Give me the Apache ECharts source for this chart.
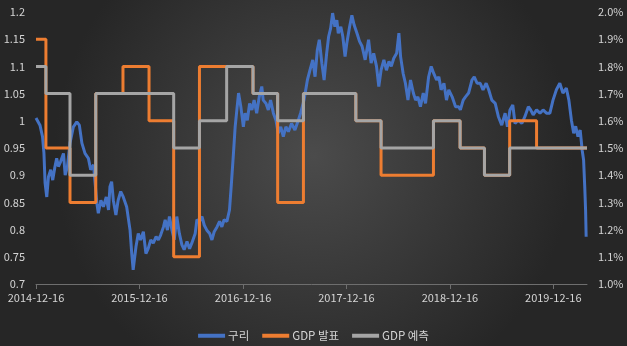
<!DOCTYPE html>
<html>
<head>
<meta charset="utf-8">
<script src="https://cdn.jsdelivr.net/npm/echarts@6/dist/echarts.min.js"></script>
<style>
  html, body { margin: 0; padding: 0; background: #262626; }
  #chart { width: 627px; height: 346px; }
</style>
</head>
<body>
<div id="chart"></div>
<script>
// Copper index (left axis)
const copperDates = [
  '2014-12-16','2014-12-30','2015-01-08','2015-01-13','2015-01-17','2015-01-23','2015-01-29','2015-02-06','2015-02-13','2015-02-21',
  '2015-02-27','2015-03-05','2015-03-13','2015-03-23','2015-03-29','2015-04-06','2015-04-15','2015-04-27','2015-05-09','2015-05-18',
  '2015-05-27','2015-06-07','2015-06-19','2015-06-27','2015-07-07','2015-07-19','2015-07-24','2015-08-02','2015-08-11','2015-08-21',
  '2015-08-29','2015-09-03','2015-09-09','2015-09-15','2015-09-24','2015-10-02','2015-10-11','2015-10-20','2015-11-01','2015-11-13',
  '2015-11-19','2015-11-24','2015-12-04','2015-12-12','2015-12-20','2015-12-30','2016-01-08','2016-01-16','2016-01-25','2016-02-03',
  '2016-02-13','2016-02-21','2016-02-29','2016-03-10','2016-03-16','2016-03-24','2016-03-31','2016-04-09','2016-04-17','2016-04-26',
  '2016-05-05','2016-05-14','2016-05-22','2016-06-01','2016-06-10','2016-06-18','2016-06-30','2016-07-06','2016-07-15','2016-07-24',
  '2016-08-01','2016-08-10','2016-08-20','2016-08-28','2016-09-05','2016-09-15','2016-09-24','2016-10-02','2016-10-10','2016-10-20',
  '2016-10-29','2016-11-04','2016-11-12','2016-11-18','2016-11-24','2016-11-30','2016-12-08','2016-12-17','2016-12-23','2016-12-31',
  '2017-01-08','2017-01-16','2017-01-24','2017-02-02','2017-02-11','2017-02-20','2017-02-25','2017-03-07','2017-03-15','2017-03-23',
  '2017-04-02','2017-04-11','2017-04-19','2017-04-28','2017-05-07','2017-05-16','2017-05-25','2017-06-05','2017-06-17','2017-06-29',
  '2017-07-07','2017-07-19','2017-07-31','2017-08-09','2017-08-19','2017-08-27','2017-09-04','2017-09-11','2017-09-20','2017-09-28',
  '2017-10-07','2017-10-14','2017-10-21','2017-10-28','2017-11-05','2017-11-12','2017-11-17','2017-11-26','2017-12-03','2017-12-11',
  '2017-12-17','2017-12-27','2018-01-04','2018-01-12','2018-01-22','2018-01-31','2018-02-09','2018-02-20','2018-03-04','2018-03-13',
  '2018-03-22','2018-04-01','2018-04-09','2018-04-17','2018-04-27','2018-05-06','2018-05-15','2018-05-23','2018-06-01','2018-06-11',
  '2018-06-19','2018-06-25','2018-07-04','2018-07-12','2018-07-21','2018-07-30','2018-08-09','2018-08-17','2018-08-25','2018-09-03',
  '2018-09-13','2018-09-21','2018-10-02','2018-10-11','2018-10-20','2018-10-30','2018-11-07','2018-11-15','2018-11-25','2018-12-04',
  '2018-12-12','2018-12-24','2019-01-05','2019-01-16','2019-01-22','2019-02-01','2019-02-09','2019-02-20','2019-03-04','2019-03-12',
  '2019-03-22','2019-04-02','2019-04-12','2019-04-23','2019-05-02','2019-05-13','2019-05-25','2019-06-05','2019-06-17','2019-06-29',
  '2019-07-07','2019-07-16','2019-07-26','2019-08-03','2019-08-15','2019-08-27','2019-09-07','2019-09-19','2019-09-27','2019-10-06',
  '2019-10-18','2019-10-30','2019-11-10','2019-11-22','2019-12-04','2019-12-15','2019-12-27','2020-01-08','2020-01-19','2020-01-31',
  '2020-02-09','2020-02-18','2020-02-26','2020-03-04','2020-03-12','2020-03-20','2020-03-27','2020-04-01','2020-04-05','2020-04-08',
  '2020-04-10'
];
const copperValues = [
  1.005,0.992,0.971,0.941,0.886,0.860,0.897,0.910,0.891,0.916,
  0.931,0.916,0.925,0.940,0.900,0.916,0.959,0.989,0.998,0.992,
  0.959,0.940,0.931,0.910,0.919,0.848,0.830,0.854,0.842,0.860,
  0.836,0.879,0.888,0.854,0.827,0.854,0.870,0.860,0.842,0.799,
  0.756,0.726,0.769,0.793,0.781,0.796,0.756,0.765,0.781,0.775,
  0.787,0.781,0.790,0.805,0.818,0.799,0.824,0.799,0.781,0.824,
  0.793,0.772,0.763,0.778,0.765,0.775,0.793,0.818,0.815,0.824,
  0.808,0.799,0.793,0.781,0.796,0.805,0.815,0.805,0.818,0.815,
  0.836,0.879,0.940,0.989,1.020,1.051,1.026,0.989,1.014,1.001,
  1.032,1.020,1.038,1.014,1.044,1.063,1.038,1.032,1.020,1.038,
  1.014,1.001,0.977,0.989,0.971,0.989,0.980,0.995,0.983,1.001,
  1.014,1.038,1.075,1.093,1.112,1.081,1.130,1.149,1.106,1.075,
  1.124,1.155,1.170,1.198,1.173,1.185,1.161,1.173,1.155,1.118,
  1.142,1.173,1.194,1.176,1.161,1.146,1.137,1.112,1.149,1.106,
  1.124,1.100,1.063,1.093,1.112,1.093,1.109,1.100,1.115,1.124,
  1.161,1.118,1.087,1.069,1.038,1.075,1.051,1.038,1.044,1.026,
  1.051,1.032,1.081,1.100,1.087,1.075,1.081,1.057,1.069,1.038,
  1.057,1.044,1.026,1.026,1.020,1.038,1.044,1.051,1.075,1.081,
  1.069,1.069,1.057,1.069,1.057,1.038,1.032,1.008,0.992,1.014,
  0.989,1.020,1.029,0.995,1.001,0.995,1.008,1.026,1.020,1.011,
  1.020,1.014,1.020,1.014,1.014,1.038,1.057,1.069,1.051,1.060,
  1.038,1.001,0.977,0.990,0.971,0.983,0.946,0.928,0.879,0.836,
  0.787
];

// GDP growth (%, right axis) as step series; each value holds until the next date
const gdpDates = [
  '2014-12-16','2015-01-20','2015-04-15','2015-07-15','2015-10-19','2016-01-19','2016-04-15','2016-07-15',
  '2016-10-19','2017-01-20','2017-04-17','2017-07-17','2017-10-19','2018-01-18','2018-04-17','2018-07-16',
  '2018-10-19','2019-01-21','2019-04-17','2019-07-15','2019-10-18','2020-01-17','2020-04-13'
];
const gdpActual   = [1.9,1.5,1.3,1.7,1.8,1.6,1.1,1.8,1.8,1.7,1.3,1.7,1.7,1.6,1.4,1.4,1.6,1.5,1.4,1.6,1.5,1.5,1.5];
const gdpForecast = [1.8,1.7,1.4,1.7,1.7,1.7,1.5,1.6,1.8,1.7,1.6,1.7,1.7,1.6,1.5,1.5,1.6,1.5,1.4,1.5,1.5,1.5,1.5];

// x-axis tick dates
const tickDates = ['2014-12-16','2015-12-16','2016-12-16','2017-12-16','2018-12-16','2019-12-16'];
const axisStart = '2014-12-16';
const axisEnd = '2020-04-13';

const seriesNames = ['구리', 'GDP 발표', 'GDP 예측'];

function toTime(s) {
  const p = s.split('-').map(Number);
  return new Date(p[0], p[1] - 1, p[2]).getTime();
}
function pad(n) { return (n < 10 ? '0' : '') + n; }
function fmtDate(t) {
  const d = new Date(t);
  return d.getFullYear() + '-' + pad(d.getMonth() + 1) + '-' + pad(d.getDate());
}
function zip(dates, values) {
  return dates.map((d, i) => [toTime(d), values[i]]);
}

const FONT = '"Noto Sans CJK KR", "Noto Sans", sans-serif';
const TEXT = '#d4d4d4';

const chart = echarts.init(document.getElementById('chart'), null, { renderer: 'canvas' });
chart.setOption({
  animation: false,
  backgroundColor: {
    type: 'radial', x: 0.5, y: 0.45, r: 0.75,
    colorStops: [
      { offset: 0, color: '#4b4b4b' },
      { offset: 1, color: '#262626' }
    ]
  },
  textStyle: { fontFamily: FONT },
  grid: { left: 36, right: 40, top: 12, bottom: 62, containLabel: false },
  legend: {
    data: seriesNames,
    left: 'center',
    top: 325,
    icon: 'rect',
    itemWidth: 27,
    itemHeight: 4,
    itemGap: 13,
    textStyle: { color: TEXT, fontSize: 11.5, fontFamily: FONT, padding: [0, 0, 0, -2] }
  },
  xAxis: {
    type: 'value',
    min: toTime(axisStart),
    max: toTime(axisEnd),
    axisLine: { show: true, lineStyle: { color: '#6e6e6e', width: 1 } },
    axisTick: {
      show: true, length: 5, inside: false,
      lineStyle: { color: '#6e6e6e' },
      customValues: tickDates.map(toTime)
    },
    axisLabel: {
      color: TEXT, fontSize: 11, fontFamily: FONT, margin: 8,
      customValues: tickDates.map(toTime),
      formatter: (v) => fmtDate(v)
    },
    splitLine: { show: false }
  },
  yAxis: [
    {
      type: 'value',
      min: 0.7, max: 1.2, interval: 0.05,
      axisLine: { show: false },
      axisTick: { show: false },
      splitLine: { show: false },
      axisLabel: { color: TEXT, fontSize: 11, fontFamily: FONT, margin: 11 }
    },
    {
      type: 'value',
      min: 1.0, max: 2.0, interval: 0.1,
      axisLine: { show: false },
      axisTick: { show: false },
      splitLine: { show: false },
      axisLabel: {
        color: TEXT, fontSize: 11, fontFamily: FONT, margin: 11,
        formatter: (v) => v.toFixed(1) + '%'
      }
    }
  ],
  series: [
    {
      name: seriesNames[0],
      type: 'line',
      yAxisIndex: 0,
      data: zip(copperDates, copperValues),
      showSymbol: false,
      symbol: 'none',
      lineStyle: { color: '#4472C4', width: 3 },
      itemStyle: { color: '#4472C4' }
    },
    {
      name: seriesNames[1],
      type: 'line',
      yAxisIndex: 1,
      step: 'end',
      data: zip(gdpDates, gdpActual),
      showSymbol: false,
      symbol: 'none',
      lineStyle: { color: '#ED7D31', width: 3 },
      itemStyle: { color: '#ED7D31' }
    },
    {
      name: seriesNames[2],
      type: 'line',
      yAxisIndex: 1,
      step: 'end',
      data: zip(gdpDates, gdpForecast),
      showSymbol: false,
      symbol: 'none',
      lineStyle: { color: '#A5A5A5', width: 3 },
      itemStyle: { color: '#A5A5A5' }
    }
  ]
});
</script>
</body>
</html>
